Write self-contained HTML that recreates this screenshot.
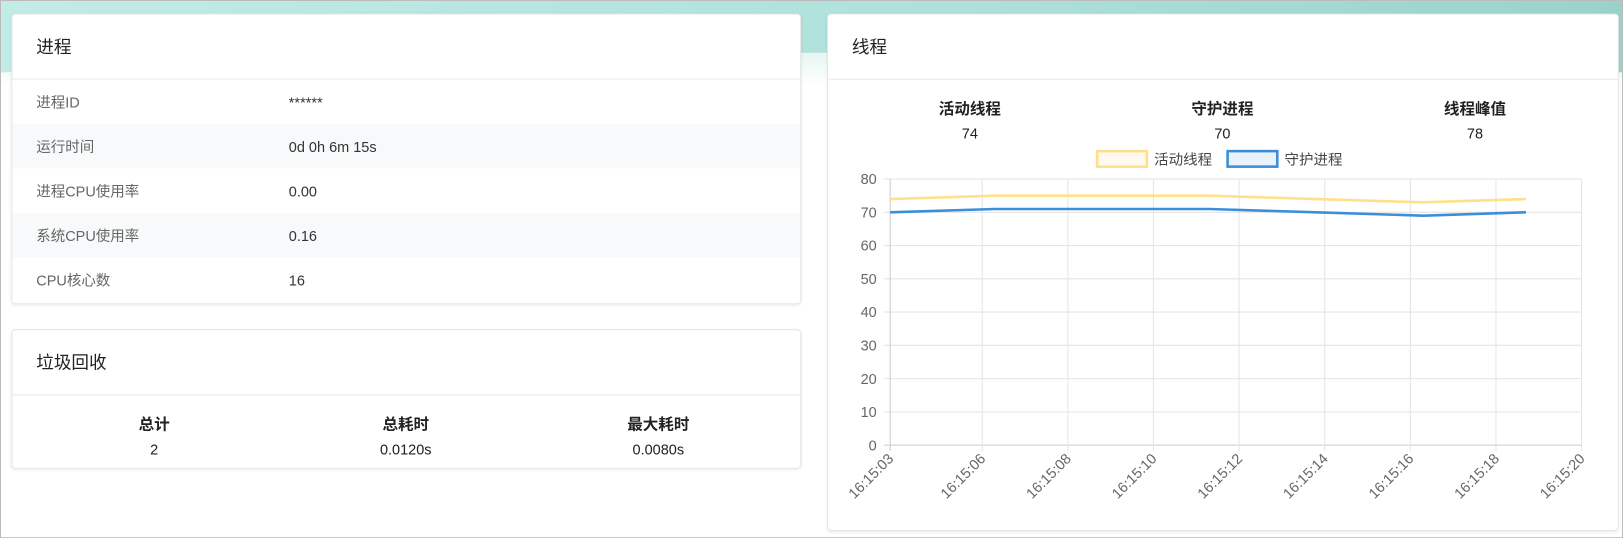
<!DOCTYPE html>
<html><head><meta charset="utf-8">
<style>
*{box-sizing:border-box;margin:0;padding:0}
html,body{width:1623px;height:538px;overflow:hidden}
body{font-family:"Liberation Sans","Noto Sans CJK SC",sans-serif;background:#fff;position:relative}
#root{position:absolute;left:0;top:0;width:1568px;height:520px;transform:scale(1.03508);transform-origin:0 0;border:1px solid #bbb;overflow:hidden}
.bg{position:absolute;left:0;top:0;width:1568px;height:78px;background:linear-gradient(90deg,#c2ece6,#aee0da 60%,#98d3cb);}
.bg2{position:absolute;left:-200px;top:50px;width:1968px;height:80px;background:linear-gradient(#e6f6f3,#fff 40%);border-radius:50% 50% 0 0/60% 60% 0 0}
.card{position:absolute;background:#fff;border:1px solid #e6e6e6;border-radius:4px;box-shadow:0 1px 3px rgba(0,0,0,.08)}
.hd{height:63px;border-bottom:1px solid #e8e8e8;padding:0 23px;line-height:63px;font-size:17px;color:#222}
.row{height:43px;display:flex;align-items:center;font-size:14px;color:#666;padding-left:23px}
.row .v{position:absolute;left:267px;color:#333}
.stat{position:absolute;text-align:center;font-size:14px;color:#222;width:200px}
.stat b{display:block;font-size:15px;margin-bottom:6px}
</style></head><body>
<div id="root">
<div class="bg"></div>
<div class="bg2"></div>

<div class="card" style="left:10px;top:12px;width:763px;height:281px">
<div class="hd">进程</div>
<div>
<div class="row" style="background:#fff"><span>进程ID</span><span class="v">******</span></div>
<div class="row" style="background:#f8f9fa"><span>运行时间</span><span class="v">0d 0h 6m 15s</span></div>
<div class="row" style="background:#fff"><span>进程CPU使用率</span><span class="v">0.00</span></div>
<div class="row" style="background:#f8f9fa"><span>系统CPU使用率</span><span class="v">0.16</span></div>
<div class="row" style="background:#fff"><span>CPU核心数</span><span class="v">16</span></div>
</div></div>

<div class="card" style="left:10px;top:317px;width:763px;height:135px">
<div class="hd">垃圾回收</div>
<div class="stat" style="left:37px;top:80px"><b>总计</b>2</div>
<div class="stat" style="left:280px;top:80px"><b>总耗时</b>0.0120s</div>
<div class="stat" style="left:524px;top:80px"><b>最大耗时</b>0.0080s</div>
</div>

<div class="card" style="left:798px;top:12px;width:765px;height:500px">
<div class="hd">线程</div>
<div class="stat" style="left:37px;top:80px"><b>活动线程</b>74</div>
<div class="stat" style="left:281px;top:80px"><b>守护进程</b>70</div>
<div class="stat" style="left:525px;top:80px"><b>线程峰值</b>78</div>
</div>

<svg id="chart" style="position:absolute;left:0;top:0" width="1568" height="520"></svg>
</div>
<script>
const tickLabels=["16:15:03","16:15:06","16:15:08","16:15:10","16:15:12","16:15:14","16:15:16","16:15:18","16:15:20"];
const tickTimes=[3.85,6,8,10,12,14,16,18,20];
const sampleTimes=[3.85,6.3,8.8,11.3,13.8,16.3,18.7];
const activeThreads=[74,75,75,75,74,73,74];
const daemonThreads=[70,71,71,71,70,69,70];
const yTicks=[0,10,20,30,40,50,60,70,80];
const NS="http://www.w3.org/2000/svg";
const svg=document.getElementById('chart');
const X0=859,X1=1527,Y0=429,Y1=172;
const xs=t=>X0+(t-3.85)/(20-3.85)*(X1-X0);
const ys=v=>Y0-v/80*(Y0-Y1);
function mk(tag,a){const e=document.createElementNS(NS,tag);for(const k in a)e.setAttribute(k,a[k]);svg.appendChild(e);return e;}
yTicks.forEach(v=>{
 const l=mk('line',{x1:X0-6,x2:X1,y1:ys(v),y2:ys(v),stroke:v===0?'#ccc':'#e5e5e5'});
 
 
 const t=mk('text',{x:X0-13,y:ys(v)+5,'text-anchor':'end','font-size':14,fill:'#666','font-family':'Liberation Sans'});
 t.textContent=v;
 
 
});
tickTimes.forEach((tt,i)=>{
 const x=xs(tt);
 const l=mk('line',{x1:x,x2:x,y1:Y1,y2:Y0+6,stroke:i===0?'#ccc':'#e5e5e5'});
 
 
 const t=mk('text',{x:x+4,y:Y0+14,'text-anchor':'end','font-size':14,fill:'#666','font-family':'Liberation Sans',transform:`rotate(-45 ${x+4} ${Y0+14})`});
 t.textContent=tickLabels[i];
 
 
});
function series(vals,color,name){
 const p=mk('polyline',{points:vals.map((v,i)=>xs(sampleTimes[i])+','+ys(v)).join(' '),fill:'none',stroke:color,'stroke-width':2.5,'stroke-linejoin':'round'});
 
 
}
series(activeThreads,'#ffe08a','active-threads-line');
series(daemonThreads,'#3b8fd9','daemon-threads-line');
const lg=[["活动线程","#ffe08a","#fffaf0",1059],["守护进程","#3b8fd9","#eaf2fb",1185]];
lg.forEach(([txt,c,f,x])=>{
 const r=mk('rect',{x:x,y:145,width:48,height:15,fill:f,stroke:c,'stroke-width':2.5});
 
 
 const t=mk('text',{x:x+55,y:158,'font-size':14,fill:'#444','font-family':'Liberation Sans, Noto Sans CJK SC, sans-serif'});
 t.textContent=txt;
 
 
});
</script>
</body></html>
